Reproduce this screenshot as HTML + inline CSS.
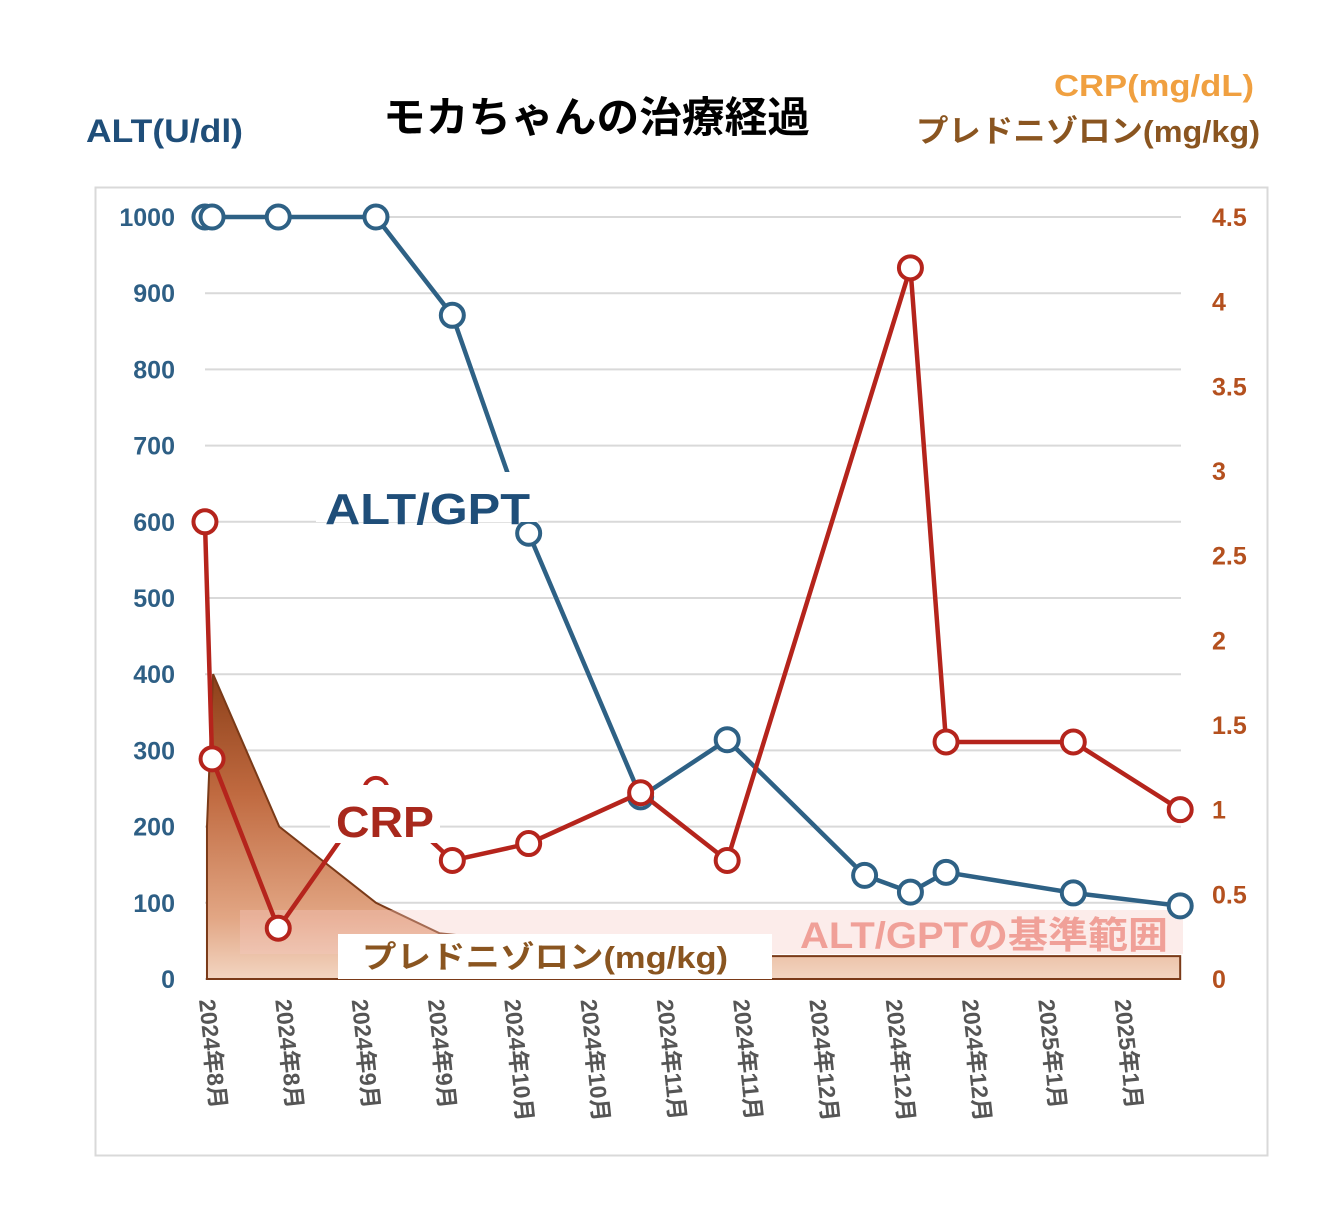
<!DOCTYPE html>
<html><head><meta charset="utf-8"><style>
html,body{margin:0;padding:0;background:#fff;}
svg{display:block;font-family:"Liberation Sans","Noto Sans CJK JP",sans-serif;}
</style></head><body>
<svg id="chart" width="1330" height="1220" viewBox="0 0 1330 1220">
<defs>
<linearGradient id="predGrad" x1="0" y1="670" x2="0" y2="980" gradientUnits="userSpaceOnUse">
<stop offset="0" stop-color="#8a3e18"/><stop offset="0.4" stop-color="#c06a40"/><stop offset="0.8" stop-color="#e2a684"/><stop offset="1" stop-color="#f3d6c2"/>
</linearGradient>
</defs>
<text x="383" y="132" font-size="42" font-weight="bold" fill="#000" textLength="427" lengthAdjust="spacingAndGlyphs">モカちゃんの治療経過</text>
<text x="86" y="142" font-size="32" font-weight="bold" fill="#1f4e79" textLength="157" lengthAdjust="spacingAndGlyphs">ALT(U/dl)</text>
<text x="1054" y="96" font-size="31" font-weight="bold" fill="#f0a040" textLength="200" lengthAdjust="spacingAndGlyphs">CRP(mg/dL)</text>
<text x="916" y="142" font-size="31" font-weight="bold" fill="#8a5520" textLength="344" lengthAdjust="spacingAndGlyphs">プレドニゾロン(mg/kg)</text>
<rect x="95.5" y="187.5" width="1172" height="968" fill="none" stroke="#d9d9d9" stroke-width="2"/>
<g id="grid"></g><g id="leftTicks"></g><g id="rightTicks"></g><g id="xTicks"></g>
<g id="area"></g>
<rect x="240" y="910" width="943" height="44" fill="#f6c8c4" opacity="0.35"/>
<text x="800" y="948" font-size="37" font-weight="bold" fill="#f0a098" textLength="368" lengthAdjust="spacingAndGlyphs">ALT/GPTの基準範囲</text>
<g id="altSeries"></g><g id="crpSeries"></g>
<rect x="316" y="472" width="222" height="50" fill="#fff"/>
<text x="325" y="524" font-size="44" font-weight="bold" fill="#1f4e79" textLength="205" lengthAdjust="spacingAndGlyphs">ALT/GPT</text>
<rect x="330" y="785" width="110" height="58" fill="#fff"/>
<text x="336" y="837" font-size="44" font-weight="bold" fill="#a8281c" textLength="98" lengthAdjust="spacingAndGlyphs">CRP</text>
<rect x="338" y="934" width="434" height="45" fill="#fff"/>
<text x="362" y="968" font-size="31" font-weight="bold" fill="#8a5520" textLength="366" lengthAdjust="spacingAndGlyphs">プレドニゾロン(mg/kg)</text>
</svg>
<script>
const xLabels=["2024年8月","2024年8月","2024年9月","2024年9月","2024年10月","2024年10月","2024年11月","2024年11月","2024年12月","2024年12月","2024年12月","2025年1月","2025年1月"];
const leftTickVals=[0,100,200,300,400,500,600,700,800,900,1000];
const rightTickVals=[0,0.5,1,1.5,2,2.5,3,3.5,4,4.5];
const rightTickLabels=["0","0.5","1","1.5","2","2.5","3","3.5","4","4.5"];
const altDays=[-0.6,0.8,13.8,33,48,63,85,102,129,138,145,170,191];
const altVals=[1000,1000,1000,1000,871,585,239,314,136,114,140,113,96];
const crpDays=[-0.6,0.8,13.8,33,48,63,85,102,138,145,170,191];
const crpVals=[2.7,1.3,0.3,1.12,0.7,0.8,1.1,0.7,4.2,1.4,1.4,1.0];
const predDays=[-0.2,1.0,14,33,45.5,74,92,191];
const predVals=[1.0,2.0,1.0,0.5,0.3,0.2,0.15,0.15];

const NS="http://www.w3.org/2000/svg";
function xS(d){return 208+d*5.09;}
function yL(v){return 979-v*0.762;}
function yR(v){return 979-v*169.33;}
function yP(v){return yL(v*200);}
function mk(tag,attrs,parent){const e=document.createElementNS(NS,tag);for(const k in attrs)e.setAttribute(k,attrs[k]);document.getElementById(parent).appendChild(e);return e;}

leftTickVals.forEach(v=>{
  const g=mk('line',{x1:205,x2:1181,y1:yL(v),y2:yL(v),stroke:'#d9d9d9','stroke-width':2},'grid');
  
  
  const t=mk('text',{x:175,y:yL(v)+9,'text-anchor':'end','font-size':25,'font-weight':'bold',fill:'#2e5f85'},'leftTicks');
  t.textContent=v;
  
  
});
rightTickVals.forEach((v,i)=>{
  const t=mk('text',{x:1212,y:yR(v)+9,'font-size':25,'font-weight':'bold',fill:'#b4501e'},'rightTicks');
  t.textContent=rightTickLabels[i];
  
  
});
xLabels.forEach((s,i)=>{
  const x=199+i*76.3;
  const t=mk('text',{x:x,y:1000,'font-size':23,'font-weight':'bold',fill:'#555',transform:`rotate(84 ${x} 1000)`},'xTicks');
  t.textContent=s;
  
  
});
let d=`M${xS(predDays[0])},979 `;
predDays.forEach((dd,i)=>{d+=`L${xS(dd)},${yP(predVals[i])} `;});
d+=`L${xS(predDays[predDays.length-1])},979 Z`;
const a=mk('path',{d:d,fill:'url(#predGrad)',stroke:'#7a3a18','stroke-width':2},'area');



function series(days,vals,ys,color,parent,name){
  const pts=days.map((dd,i)=>`${xS(dd)},${ys(vals[i])}`).join(' ');
  const l=mk('polyline',{points:pts,fill:'none',stroke:color,'stroke-width':4.5,'stroke-linejoin':'round'},parent);
  
  
  days.forEach((dd,i)=>{
    const c=mk('circle',{cx:xS(dd),cy:ys(vals[i]),r:11.5,fill:'#fff',stroke:color,'stroke-width':4},parent);
    
    
  });
}
series(altDays,altVals,yL,'#2e6185','altSeries','alt');
series(crpDays,crpVals,yR,'#b5241c','crpSeries','crp');
</script>
</body></html>
